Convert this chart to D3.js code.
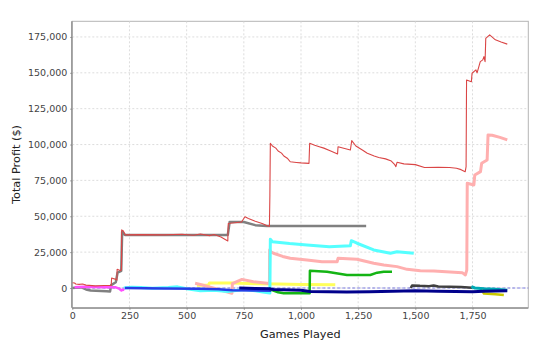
<!DOCTYPE html>
<html><head><meta charset="utf-8">
<script src="https://cdn.jsdelivr.net/npm/d3@7"></script>
<style>html,body{margin:0;padding:0;background:#fff;}svg{display:block;}</style>
</head><body>
<svg id="c" width="541" height="341"></svg>
<script>
// ---- data: [games played, total profit] ----
const xTicks = [0, 250, 500, 750, 1000, 1250, 1500, 1750];
const yTicks = [0, 25000, 50000, 75000, 100000, 125000, 150000, 175000];
const xLabel = "Games Played";
const yLabel = "Total Profit ($)";

const redSeries = [[0,3700],[10,3500],[15,2800],[30,2500],[45,2800],[60,2000],[100,1500],[140,1700],[170,1800],[172,7000],[190,6000],[195,5500],[196,13000],[212,12000],[215,13000],[216,40500],[222,40000],[232,37000],[300,37200],[400,37000],[480,37500],[530,36800],[560,37600],[600,36500],[620,37300],[650,35500],[680,32800],[682,45000],[740,46000],[755,49700],[770,48500],[800,46500],[830,45000],[850,43500],[862,43000],[864,64800],[866,100900],[875,99000],[890,97500],[900,95500],[915,94000],[925,92000],[940,90500],[953,88000],[980,87500],[1000,87200],[1035,86900],[1038,100900],[1060,99500],[1080,98500],[1100,97500],[1130,95500],[1160,93400],[1162,98500],[1216,96200],[1222,102700],[1240,99000],[1270,96000],[1290,93900],[1320,92000],[1340,91000],[1370,90000],[1395,88500],[1410,86000],[1415,84600],[1420,87600],[1450,86500],[1500,86000],[1540,84000],[1600,84200],[1650,84000],[1680,83500],[1700,82500],[1718,81000],[1722,84600],[1724,145000],[1745,143800],[1748,149700],[1765,152000],[1770,150000],[1784,157800],[1795,159000],[1800,161300],[1805,157800],[1808,174000],[1825,176400],[1850,173000],[1875,171500],[1902,170000]];
const graySeries = [[0,0],[40,500],[60,-1000],[80,-1800],[150,-2200],[165,-2500],[170,2000],[190,4000],[198,10700],[214,12000],[218,39200],[230,37000],[680,37000],[688,46000],[750,46000],[800,43800],[850,43200],[1285,43200]];
const pinkSeries = [[537,3300],[560,2500],[595,900],[640,-1000],[698,-3700],[700,3000],[742,6000],[792,4400],[851,3300],[862,3000],[863,26500],[870,25000],[880,24200],[920,22000],[953,20700],[1026,19500],[1092,18300],[1158,18300],[1162,20700],[1245,20000],[1318,17200],[1362,16000],[1420,14900],[1464,13000],[1522,12100],[1581,11800],[1705,10700],[1719,9100],[1725,12500],[1727,73000],[1756,71800],[1760,78800],[1785,81100],[1790,86900],[1814,89200],[1818,106700],[1836,106500],[1870,105000],[1902,103200]];
const cyanSeries = [[225,0],[260,500],[300,300],[350,-200],[420,300],[460,800],[500,-500],[560,-2000],[620,-1500],[680,-2500],[750,-1000],[800,-2000],[840,-3000],[864,-3500],[866,34000],[875,32300],[950,31000],[1026,30000],[1124,28800],[1216,29500],[1220,33000],[1245,31200],[1318,26500],[1391,24200],[1420,25300],[1493,24200]];
const blueSeries = [[230,0],[400,-300],[550,-500],[640,-800],[700,-1500],[800,-1800],[870,-2000]];
const navySeries = [[730,0],[800,-300],[860,-500],[880,-1000],[1000,-1500],[1040,-2500],[1200,-2700],[1300,-2600],[1500,-2000],[1600,-2300],[1750,-2600],[1800,-2200],[1902,-1900]];
const greenSeries = [[860,0],[873,-1400],[900,-3000],[924,-3700],[1038,-3700],[1039,12000],[1114,11400],[1201,9100],[1303,9100],[1333,10700],[1362,11400],[1398,11400]];
const yellowSeries = [[545,2000],[595,2000],[600,3500],[700,3500],[800,3000],[900,2800],[1000,2500],[1150,2200]];
const magentaSeries = [[10,500],[50,800],[100,700],[150,600],[190,500],[205,-500],[215,-1800],[222,-1000],[228,-1500]];
const darkSeries = [[1480,0],[1486,1800],[1520,1500],[1560,1300],[1580,1800],[1600,1000],[1700,700],[1749,200]];
const tealSeries = [[1745,1000],[1760,0],[1800,-500],[1850,-800],[1902,-1500]];
const oliveSeries = [[1790,-1500],[1800,-3800],[1850,-4300],[1887,-4900]];

const series = [
  {data: yellowSeries, color: "rgb(255,255,90)", w: 3},
  {data: pinkSeries, color: "rgb(255,175,175)", w: 3},
  {data: cyanSeries, color: "rgb(85,255,255)", w: 3},
  {data: blueSeries, color: "rgb(40,60,230)", w: 2.5},
  {data: greenSeries, color: "rgb(20,180,20)", w: 2.5},
  {data: graySeries, color: "rgb(128,128,128)", w: 2.5},
  {data: magentaSeries, color: "rgb(255,80,255)", w: 2.5},
  {data: darkSeries, color: "rgb(64,64,64)", w: 2.5},
  {data: tealSeries, color: "rgb(0,170,180)", w: 3},
  {data: oliveSeries, color: "rgb(200,200,0)", w: 2.5},
  {data: navySeries, color: "rgb(0,0,140)", w: 3},
  {data: redSeries, color: "rgb(218,70,70)", w: 1.1}
];

// ---- layout ----
const L = 72.3, R = 528.3, T = 21.3, B = 307.7;
const svg = d3.select("#c");
const x = d3.scaleLinear().domain([0, 1994]).range([L, R]);
const y = d3.scaleLinear().domain([-13730, 185900]).range([B, T]);
const fmt = d3.format(",");
const font = "'DejaVu Sans', sans-serif";

svg.append("rect").attr("x", L).attr("y", T).attr("width", R - L).attr("height", B - T)
  .attr("fill", "#fff").attr("stroke", "#b4b4b4").attr("stroke-width", 1);

// gridlines
const grid = svg.append("g").attr("stroke", "#d4d4d4").attr("stroke-width", 0.8).attr("stroke-dasharray", "2,2");
xTicks.filter(d => d > 0).forEach(d => grid.append("line").attr("x1", x(d)).attr("x2", x(d)).attr("y1", T).attr("y2", B));
yTicks.forEach(d => grid.append("line").attr("x1", L).attr("x2", R).attr("y1", y(d)).attr("y2", y(d)));

// zero marker
svg.append("line").attr("x1", L).attr("x2", R).attr("y1", y(0)).attr("y2", y(0))
  .attr("stroke", "rgb(90,90,220)").attr("stroke-width", 0.8).attr("stroke-dasharray", "3,2");

// series
svg.append("clipPath").attr("id", "pc").append("rect")
  .attr("x", L).attr("y", T).attr("width", R - L).attr("height", B - T);
const line = d3.line().x(d => x(d[0])).y(d => y(d[1]));
const g = svg.append("g").attr("clip-path", "url(#pc)");
series.forEach(s => g.append("path").attr("d", line(s.data)).attr("fill", "none")
  .attr("stroke", s.color).attr("stroke-width", s.w).attr("stroke-linejoin", "round"));

// axes
const xAxis = d3.axisBottom(x).tickValues(xTicks).tickFormat(fmt).tickSizeInner(2).tickSizeOuter(0).tickPadding(3);
const yAxis = d3.axisLeft(y).tickValues(yTicks).tickFormat(fmt).tickSizeInner(2).tickSizeOuter(0).tickPadding(3);
const gx = svg.append("g").attr("transform", `translate(0,${B})`).call(xAxis);
const gy = svg.append("g").attr("transform", `translate(${L},0)`).call(yAxis);
[gx, gy].forEach(a => {
  a.select(".domain").attr("stroke", "#888").attr("stroke-width", 1.2);
  a.selectAll(".tick line").attr("stroke", "#888");
  a.selectAll("text").attr("font-family", font).attr("font-size", "9.5px").attr("fill", "#444");
});
gx.select(".domain").attr("d", `M${L},0.5H${R}`);
gy.select(".domain").attr("d", `M-0.5,${T}V${B}`);

svg.append("text").attr("x", (L + R) / 2).attr("y", 337.5).attr("text-anchor", "middle")
  .attr("font-family", font).attr("font-size", "11.3px").attr("fill", "#222").text(xLabel);
svg.append("text").attr("transform", `translate(20,${(T + B) / 2}) rotate(-90)`).attr("text-anchor", "middle")
  .attr("font-family", font).attr("font-size", "11.3px").attr("fill", "#222").text(yLabel);
</script>
</body></html>
